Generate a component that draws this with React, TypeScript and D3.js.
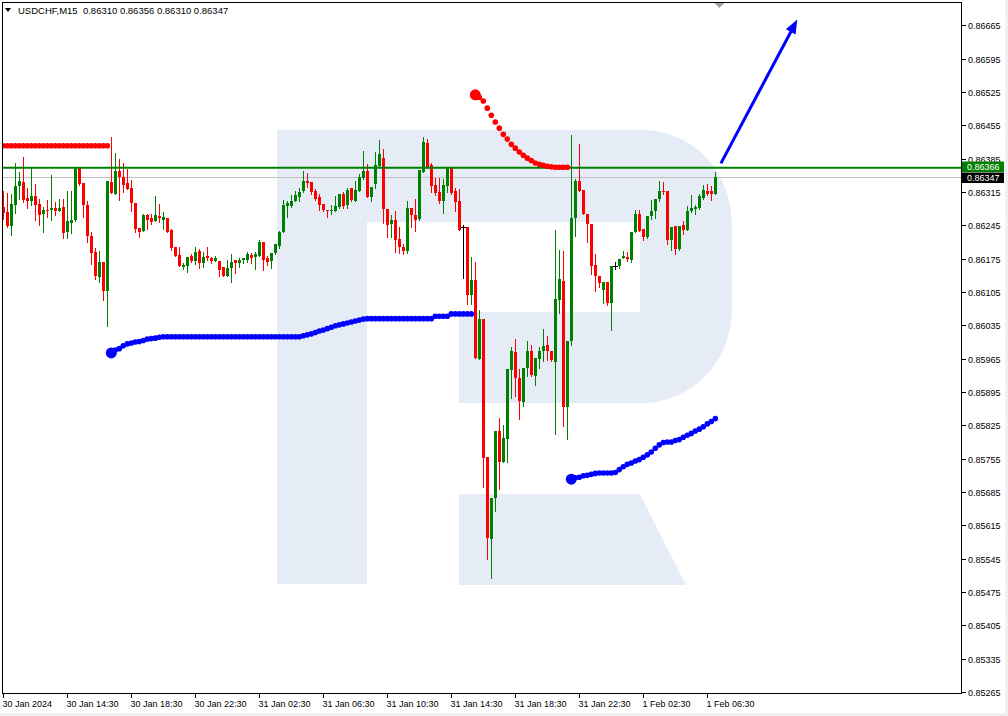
import { useEffect, useRef } from "react"
import * as d3 from "d3"

// USDCHF M15, one candle per 15 minutes, first candle 30 Jan 2024 10:30
// [open, high, low, close]
const candles: [number, number, number, number][] = [
  [0.86283, 0.86318, 0.86259, 0.86271], [0.86273, 0.86313, 0.86241, 0.86243], [0.86243, 0.86310, 0.86224, 0.86289],
  [0.86288, 0.86375, 0.86271, 0.86327], [0.86327, 0.86356, 0.86301, 0.86337], [0.86335, 0.86389, 0.86294, 0.86299],
  [0.86302, 0.86323, 0.86281, 0.86297], [0.86296, 0.86366, 0.86287, 0.86306], [0.86307, 0.86331, 0.86257, 0.86288],
  [0.86289, 0.86301, 0.86245, 0.86266], [0.86268, 0.86283, 0.86232, 0.86278], [0.86278, 0.86299, 0.86262, 0.86275],
  [0.86277, 0.86350, 0.86257, 0.86282], [0.86282, 0.86294, 0.86266, 0.86275], [0.86275, 0.86301, 0.86275, 0.86282],
  [0.86283, 0.86301, 0.86219, 0.86228], [0.86231, 0.86316, 0.86218, 0.86254], [0.86250, 0.86318, 0.86228, 0.86257],
  [0.86257, 0.86366, 0.86255, 0.86366], [0.86366, 0.86366, 0.86329, 0.86332], [0.86333, 0.86334, 0.86262, 0.86287],
  [0.86287, 0.86297, 0.86210, 0.86222], [0.86222, 0.86231, 0.86164, 0.86186], [0.86190, 0.86198, 0.86132, 0.86138],
  [0.86136, 0.86192, 0.86127, 0.86169], [0.86167, 0.86167, 0.86089, 0.86108], [0.86108, 0.86337, 0.86034, 0.86337],
  [0.86336, 0.86431, 0.86313, 0.86313], [0.86311, 0.86397, 0.86311, 0.86358], [0.86358, 0.86385, 0.86299, 0.86347],
  [0.86347, 0.86376, 0.86315, 0.86330], [0.86334, 0.86364, 0.86321, 0.86321], [0.86323, 0.86340, 0.86276, 0.86292],
  [0.86292, 0.86292, 0.86232, 0.86237], [0.86240, 0.86240, 0.86220, 0.86232], [0.86233, 0.86268, 0.86233, 0.86266],
  [0.86266, 0.86268, 0.86237, 0.86257], [0.86260, 0.86268, 0.86248, 0.86253], [0.86254, 0.86307, 0.86254, 0.86266],
  [0.86264, 0.86289, 0.86252, 0.86260], [0.86257, 0.86273, 0.86238, 0.86262], [0.86261, 0.86261, 0.86231, 0.86232],
  [0.86235, 0.86238, 0.86194, 0.86197], [0.86199, 0.86199, 0.86181, 0.86181], [0.86183, 0.86200, 0.86159, 0.86159],
  [0.86157, 0.86166, 0.86153, 0.86161], [0.86159, 0.86179, 0.86146, 0.86178], [0.86181, 0.86185, 0.86167, 0.86171],
  [0.86171, 0.86199, 0.86163, 0.86190], [0.86191, 0.86196, 0.86155, 0.86165], [0.86165, 0.86188, 0.86158, 0.86179],
  [0.86181, 0.86200, 0.86173, 0.86176], [0.86176, 0.86179, 0.86165, 0.86170], [0.86170, 0.86181, 0.86170, 0.86176],
  [0.86170, 0.86170, 0.86138, 0.86151], [0.86157, 0.86157, 0.86138, 0.86139], [0.86139, 0.86173, 0.86138, 0.86156],
  [0.86155, 0.86184, 0.86125, 0.86169], [0.86172, 0.86172, 0.86145, 0.86165], [0.86166, 0.86177, 0.86158, 0.86173],
  [0.86172, 0.86176, 0.86165, 0.86176], [0.86173, 0.86188, 0.86167, 0.86184], [0.86183, 0.86187, 0.86165, 0.86177],
  [0.86178, 0.86188, 0.86153, 0.86184], [0.86181, 0.86214, 0.86181, 0.86210], [0.86209, 0.86211, 0.86151, 0.86173],
  [0.86176, 0.86181, 0.86162, 0.86169], [0.86171, 0.86186, 0.86155, 0.86186], [0.86186, 0.86205, 0.86185, 0.86205],
  [0.86202, 0.86233, 0.86198, 0.86231], [0.86231, 0.86299, 0.86231, 0.86287], [0.86285, 0.86297, 0.86262, 0.86292],
  [0.86286, 0.86308, 0.86283, 0.86297], [0.86296, 0.86318, 0.86296, 0.86308], [0.86304, 0.86324, 0.86297, 0.86315],
  [0.86316, 0.86358, 0.86315, 0.86337], [0.86337, 0.86354, 0.86325, 0.86334], [0.86335, 0.86336, 0.86311, 0.86315],
  [0.86316, 0.86322, 0.86299, 0.86301], [0.86304, 0.86311, 0.86278, 0.86288], [0.86289, 0.86289, 0.86276, 0.86278],
  [0.86278, 0.86278, 0.86262, 0.86274], [0.86274, 0.86287, 0.86269, 0.86278], [0.86276, 0.86306, 0.86274, 0.86285],
  [0.86283, 0.86310, 0.86282, 0.86310], [0.86311, 0.86315, 0.86282, 0.86285], [0.86287, 0.86324, 0.86281, 0.86320],
  [0.86323, 0.86323, 0.86297, 0.86299], [0.86297, 0.86337, 0.86296, 0.86320], [0.86317, 0.86352, 0.86317, 0.86347],
  [0.86344, 0.86401, 0.86343, 0.86358], [0.86358, 0.86373, 0.86304, 0.86304], [0.86304, 0.86325, 0.86296, 0.86325],
  [0.86331, 0.86399, 0.86324, 0.86371], [0.86369, 0.86425, 0.86369, 0.86395], [0.86386, 0.86406, 0.86250, 0.86279],
  [0.86280, 0.86280, 0.86220, 0.86245], [0.86247, 0.86266, 0.86220, 0.86257], [0.86257, 0.86274, 0.86188, 0.86215],
  [0.86216, 0.86241, 0.86186, 0.86200], [0.86200, 0.86206, 0.86184, 0.86191], [0.86191, 0.86295, 0.86186, 0.86282],
  [0.86282, 0.86282, 0.86241, 0.86266], [0.86266, 0.86301, 0.86234, 0.86257], [0.86259, 0.86361, 0.86257, 0.86361],
  [0.86357, 0.86431, 0.86357, 0.86419], [0.86417, 0.86427, 0.86366, 0.86366], [0.86372, 0.86376, 0.86315, 0.86327],
  [0.86329, 0.86344, 0.86308, 0.86313], [0.86314, 0.86345, 0.86292, 0.86297], [0.86296, 0.86343, 0.86271, 0.86329],
  [0.86327, 0.86366, 0.86315, 0.86366], [0.86366, 0.86366, 0.86310, 0.86313], [0.86318, 0.86323, 0.86274, 0.86294],
  [0.86296, 0.86322, 0.86236, 0.86236], [0.86241, 0.86245, 0.86134, 0.86241], [0.86241, 0.86241, 0.86080, 0.86099],
  [0.86099, 0.86179, 0.86080, 0.86131], [0.86131, 0.86167, 0.85967, 0.85967], [0.85965, 0.86067, 0.85964, 0.86049],
  [0.86049, 0.86049, 0.85695, 0.85757], [0.85758, 0.85758, 0.85544, 0.85588], [0.85587, 0.85672, 0.85504, 0.85672],
  [0.85672, 0.85814, 0.85646, 0.85814], [0.85814, 0.85841, 0.85691, 0.85748], [0.85748, 0.85825, 0.85747, 0.85799],
  [0.85797, 0.85944, 0.85747, 0.85944], [0.85941, 0.85990, 0.85883, 0.85981], [0.85979, 0.86006, 0.85886, 0.85925],
  [0.85925, 0.85943, 0.85839, 0.85877], [0.85875, 0.85946, 0.85865, 0.85946], [0.85946, 0.86002, 0.85929, 0.85981],
  [0.85981, 0.85993, 0.85929, 0.85930], [0.85929, 0.85966, 0.85910, 0.85966], [0.85965, 0.85990, 0.85945, 0.85981],
  [0.85981, 0.86028, 0.85960, 0.85992], [0.85993, 0.86013, 0.85962, 0.85981], [0.85981, 0.85981, 0.85960, 0.85962],
  [0.85958, 0.86236, 0.85806, 0.86090], [0.86088, 0.86194, 0.86060, 0.86132], [0.86129, 0.86191, 0.85823, 0.85863],
  [0.85863, 0.86002, 0.85797, 0.86002], [0.86002, 0.86434, 0.85993, 0.86261], [0.86261, 0.86343, 0.86222, 0.86339],
  [0.86339, 0.86415, 0.86318, 0.86318], [0.86320, 0.86320, 0.86268, 0.86269], [0.86269, 0.86269, 0.86210, 0.86248],
  [0.86248, 0.86248, 0.86143, 0.86160], [0.86162, 0.86184, 0.86108, 0.86138], [0.86138, 0.86138, 0.86115, 0.86123],
  [0.86109, 0.86127, 0.86082, 0.86127], [0.86127, 0.86127, 0.86078, 0.86081], [0.86081, 0.86160, 0.86026, 0.86160],
  [0.86160, 0.86169, 0.86153, 0.86160], [0.86159, 0.86174, 0.86155, 0.86174], [0.86176, 0.86191, 0.86176, 0.86181],
  [0.86179, 0.86188, 0.86170, 0.86174], [0.86173, 0.86231, 0.86169, 0.86231], [0.86231, 0.86278, 0.86231, 0.86268],
  [0.86268, 0.86278, 0.86233, 0.86233], [0.86238, 0.86238, 0.86214, 0.86220], [0.86221, 0.86264, 0.86219, 0.86264],
  [0.86264, 0.86299, 0.86259, 0.86276], [0.86275, 0.86301, 0.86261, 0.86301], [0.86301, 0.86337, 0.86297, 0.86318],
  [0.86317, 0.86335, 0.86311, 0.86314], [0.86316, 0.86316, 0.86206, 0.86215], [0.86214, 0.86241, 0.86193, 0.86241],
  [0.86243, 0.86243, 0.86184, 0.86195], [0.86195, 0.86243, 0.86194, 0.86243], [0.86245, 0.86255, 0.86227, 0.86236],
  [0.86235, 0.86285, 0.86235, 0.86276], [0.86275, 0.86308, 0.86273, 0.86282], [0.86280, 0.86287, 0.86269, 0.86283],
  [0.86282, 0.86311, 0.86280, 0.86306], [0.86303, 0.86329, 0.86301, 0.86320], [0.86318, 0.86331, 0.86309, 0.86310],
  [0.86316, 0.86327, 0.86299, 0.86310], [0.86310, 0.86356, 0.86310, 0.86347],
]

const timeLabels = [
  "30 Jan 2024", "30 Jan 14:30", "30 Jan 18:30", "30 Jan 22:30", "31 Jan 02:30", "31 Jan 06:30",
  "31 Jan 10:30", "31 Jan 14:30", "31 Jan 18:30", "31 Jan 22:30", "1 Feb 02:30", "1 Feb 06:30",
]
const barsPerLabel = 16

const priceMin = 0.85265
const priceMax = 0.86665
const priceStep = 0.0007

const levelPrice = 0.86366
const bidPrice = 0.86347

// dotted trend indicator lines: first bar index + price per bar
const redBandStart = 0
const redBand = [
  0.86412, 0.86412, 0.86412, 0.86412, 0.86412, 0.86412, 0.86412, 0.86412, 0.86412, 0.86412, 0.86412, 0.86412, 0.86412, 0.86412,
  0.86412, 0.86412, 0.86412, 0.86412, 0.86412, 0.86412, 0.86412, 0.86412, 0.86412, 0.86412, 0.86412, 0.86412, 0.86412,
]
const blueLowStart = 27
const blueLow = [
  0.85977, 0.85983, 0.85986, 0.85992, 0.85996, 0.85998, 0.86000, 0.86001, 0.86003, 0.86006, 0.86007, 0.86008, 0.86010,
  0.86011, 0.86011, 0.86011, 0.86011, 0.86011, 0.86011, 0.86011, 0.86011, 0.86011, 0.86011, 0.86011, 0.86011,
  0.86011, 0.86011, 0.86011, 0.86011, 0.86011, 0.86011, 0.86011, 0.86011, 0.86011, 0.86011, 0.86011, 0.86011,
  0.86011, 0.86011, 0.86011, 0.86011, 0.86011, 0.86011, 0.86011, 0.86011, 0.86011, 0.86011, 0.86011,
  0.86013, 0.86015, 0.86017, 0.86020, 0.86023, 0.86025, 0.86028, 0.86031, 0.86034, 0.86036, 0.86038, 0.86040,
  0.86042, 0.86044, 0.86046, 0.86048, 0.86049,
  0.86049, 0.86049, 0.86049, 0.86049, 0.86049, 0.86049, 0.86049, 0.86049, 0.86049, 0.86049, 0.86049, 0.86049,
  0.86049, 0.86049, 0.86049, 0.86049,
  0.86054, 0.86054, 0.86054, 0.86054,
  0.86059, 0.86059, 0.86059, 0.86059, 0.86059, 0.86059,
]
const redHighStart = 118
const redHigh = [
  0.86519, 0.86514, 0.86506, 0.86491, 0.86476, 0.86462, 0.86449, 0.86436, 0.86426, 0.86415, 0.86407, 0.86399,
  0.86392, 0.86386, 0.86381, 0.86376, 0.86373, 0.86371, 0.86369, 0.86368, 0.86367, 0.86367, 0.86367, 0.86367,
]
const blueLow2Start = 142
const blueLow2 = [
  0.85712, 0.85715, 0.85716, 0.85719, 0.85720, 0.85722, 0.85724, 0.85725, 0.85725, 0.85725, 0.85725, 0.85726,
  0.85732, 0.85738, 0.85743, 0.85746, 0.85750, 0.85753, 0.85758, 0.85763, 0.85769, 0.85777, 0.85784, 0.85789,
  0.85790, 0.85790, 0.85793, 0.85795, 0.85800, 0.85804, 0.85808, 0.85813, 0.85817, 0.85822, 0.85828, 0.85833,
  0.85839,
]

// forecast arrow (bar index, price)
const arrowFrom: [number, number] = [179.4, 0.86375]
const arrowTo: [number, number] = [198.5, 0.86677]

const header = "USDCHF,M15  0.86310 0.86356 0.86310 0.86347"

const FONT = "Tahoma, 'Liberation Sans', Arial, sans-serif"

export default function App() {
  const svgRef = useRef<SVGSVGElement>(null)

  useEffect(() => {
    if (!svgRef.current) return
    const svg = d3.select(svgRef.current)
    svg.selectAll("*").remove()

    const width = 1008
    const height = 716
    const left = 2.5, top = 2.5, right = 961.5, bottom = 693.5

    const x = d3.scaleLinear().domain([0, candles.length - 1]).range([3.3, 715.3])
    const y = d3.scaleLinear().domain([priceMin, priceMax]).range([692, 25.3])

    svg.attr("width", width).attr("height", height).attr("viewBox", `0 0 ${width} ${height}`)

    svg.append("rect").attr("width", width).attr("height", height).attr("fill", "#f0f0f0")
    svg.append("rect").attr("width", 1005).attr("height", 713).attr("fill", "#ffffff")

    const defs = svg.append("defs")
    defs.append("clipPath").attr("id", "plot-clip")
      .append("rect").attr("x", left + 0.5).attr("y", top + 0.5)
      .attr("width", right - left - 1).attr("height", bottom - top - 1)

    // watermark logo
    const wm = svg.append("g").attr("fill", "#e6ecf5")
    wm.append("path").attr("d",
      "M277,130 H642 C692,130 732,170 732,226 V308 C732,362 692,403 642,403 H459 V312 H640 V222 H367 V584 H277 Z")
    wm.append("path").attr("d", "M459,494 H640 L686,585 H459 Z")

    const plot = svg.append("g").attr("clip-path", "url(#plot-clip)")

    // bid line
    plot.append("line")
      .attr("x1", left).attr("x2", right)
      .attr("y1", Math.round(y(bidPrice)) + 0.5).attr("y2", Math.round(y(bidPrice)) + 0.5)
      .attr("stroke", "#c0c0c0").attr("stroke-width", 1)

    // candles
    const bars = plot.append("g").attr("shape-rendering", "crispEdges")
    candles.forEach(([o, h, l, c], i) => {
      const cx = Math.round(x(i))
      const color = c > o ? "#008000" : c < o ? "#ff0000" : "#000000"
      const yh = Math.round(y(h))
      const yl = Math.round(y(l))
      bars.append("rect")
        .attr("x", cx).attr("width", 1)
        .attr("y", yh).attr("height", Math.max(1, yl - yh + 1))
        .attr("fill", color)
      const yt = Math.round(y(Math.max(o, c)))
      const yb = Math.round(y(Math.min(o, c)))
      if (c === o) {
        bars.append("rect").attr("x", cx - 2).attr("width", 5).attr("y", yt).attr("height", 1).attr("fill", color)
      } else {
        bars.append("rect")
          .attr("x", cx - 1).attr("width", 3)
          .attr("y", yt).attr("height", Math.max(1, yb - yt))
          .attr("fill", color)
      }
    })

    // level line
    plot.append("line")
      .attr("x1", left).attr("x2", right)
      .attr("y1", y(levelPrice)).attr("y2", y(levelPrice))
      .attr("stroke", "#008000").attr("stroke-width", 2)

    // dotted indicator lines
    const dots = (start: number, values: number[], color: string, bigFirst: boolean) => {
      const g = plot.append("g").attr("fill", color)
      values.forEach((p, k) => {
        g.append("circle")
          .attr("cx", x(start + k)).attr("cy", y(p))
          .attr("r", bigFirst && k === 0 ? 5.5 : 2.8)
      })
    }
    dots(redBandStart, redBand, "#ff0000", false)
    dots(blueLowStart, blueLow, "#0000ff", true)
    dots(redHighStart, redHigh, "#ff0000", true)
    dots(blueLow2Start, blueLow2, "#0000ff", true)

    // arrow
    const x0 = x(arrowFrom[0]), y0 = y(arrowFrom[1])
    const x1 = x(arrowTo[0]), y1 = y(arrowTo[1])
    const len = Math.hypot(x1 - x0, y1 - y0)
    const ux = (x1 - x0) / len, uy = (y1 - y0) / len
    const nx = -uy, ny = ux
    const headLen = 14, headW = 5.5
    svg.append("line")
      .attr("x1", x0).attr("y1", y0)
      .attr("x2", x1 - ux * (headLen - 2)).attr("y2", y1 - uy * (headLen - 2))
      .attr("stroke", "#0000ff").attr("stroke-width", 3)
    svg.append("polygon")
      .attr("points", [
        [x1, y1],
        [x1 - ux * headLen + nx * headW, y1 - uy * headLen + ny * headW],
        [x1 - ux * headLen - nx * headW, y1 - uy * headLen - ny * headW],
      ].map(p => p.join(",")).join(" "))
      .attr("fill", "#0000ff")

    // frame
    svg.append("rect")
      .attr("x", left).attr("y", top)
      .attr("width", right - left).attr("height", bottom - top)
      .attr("fill", "none").attr("stroke", "#000").attr("stroke-width", 1)
      .attr("shape-rendering", "crispEdges")

    // shift marker
    const sx = x(179)
    svg.append("polygon")
      .attr("points", `${sx - 5},3 ${sx + 5},3 ${sx},8`)
      .attr("fill", "#a0a0a0")

    // price axis
    const ticks = d3.range(0, Math.round((priceMax - priceMin) / priceStep) + 1).map(k => priceMin + k * priceStep)
    const axisY = svg.append("g").style("font-family", FONT).style("font-size", "9px")
    ticks.forEach(t => {
      const ty = Math.round(y(t)) + 0.5
      axisY.append("line").attr("x1", right).attr("x2", right + 4).attr("y1", ty).attr("y2", ty)
        .attr("stroke", "#000").attr("shape-rendering", "crispEdges")
      axisY.append("text").attr("x", 968).attr("y", ty + 3.2).attr("fill", "#000").text(t.toFixed(5))
    })

    // price tags
    const tag = (p: number, fill: string, yTop: number) => {
      svg.append("rect").attr("x", 962).attr("y", yTop).attr("width", 42).attr("height", 10.5).attr("fill", fill)
      svg.append("text").attr("x", 967).attr("y", yTop + 8.6)
        .style("font-family", FONT).style("font-size", "9px").attr("fill", "#ffffff")
        .text(p.toFixed(5))
    }
    tag(levelPrice, "#008000", Math.round(y(levelPrice)) - 6.5)
    tag(bidPrice, "#000000", Math.round(y(levelPrice)) + 4.5)

    // time axis
    const axisX = svg.append("g").style("font-family", FONT).style("font-size", "9px")
    timeLabels.forEach((lab, k) => {
      const tx = Math.round(x(k * barsPerLabel)) + 0.5
      axisX.append("line").attr("x1", tx).attr("x2", tx).attr("y1", bottom).attr("y2", bottom + 4)
        .attr("stroke", "#000").attr("shape-rendering", "crispEdges")
      axisX.append("text").attr("x", tx - 1).attr("y", 707).attr("fill", "#000").text(lab)
    })

    // header
    svg.append("polygon").attr("points", "5,8 11,8 8,12").attr("fill", "#000")
    svg.append("text").attr("x", 18).attr("y", 14)
      .style("font-family", FONT).style("font-size", "9.5px").attr("fill", "#000")
      .attr("xml:space", "preserve").style("white-space", "pre")
      .text(header)
  }, [])

  return (
    <div style={{ position: "absolute", left: 0, top: 0 }}>
      <svg ref={svgRef} style={{ display: "block" }} />
    </div>
  )
}
